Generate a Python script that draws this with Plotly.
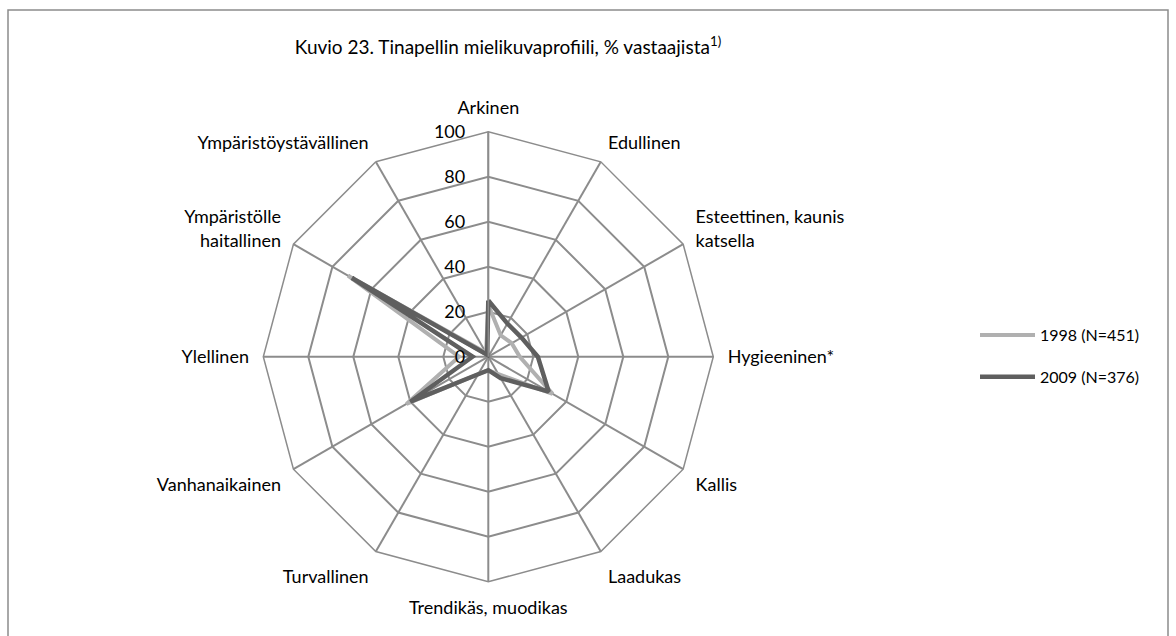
import plotly.graph_objects as go

categories = ["Arkinen", "Edullinen", "Esteettinen, kaunis<br>katsella", "Hygieeninen*",
              "Kallis", "Laadukas", "Trendikäs, muodikas", "Turvallinen",
              "Vanhanaikainen", "Ylellinen", "Ympäristölle<br>haitallinen",
              "Ympäristöystävällinen"]
values_1998 = [23, 11, 12, 14, 33, 9, 6, 9, 42, 13, 72, 2]
values_2009 = [25, 17, 17, 22, 31, 11, 6, 9, 40, 7, 70, 1]
series_names = ["1998 (N=451)", "2009 (N=376)"]
radial_ticks = [0, 20, 40, 60, 80, 100]

W, H = 1176, 636
cx, cy, R = 488.3, 356.7, 225.0

fig = go.Figure()
fig.add_trace(go.Scatterpolar(
    r=values_1998 + values_1998[:1], theta=categories + categories[:1],
    mode="lines", name=series_names[0],
    line=dict(color="#b0b0b0", width=4), legendgroup="a"))
fig.add_trace(go.Scatterpolar(
    r=values_2009 + values_2009[:1], theta=categories + categories[:1],
    mode="lines", name=series_names[1],
    line=dict(color="#5f5f5f", width=4.5), legendgroup="b"))

grid = "#8c8c8c"
fig.update_layout(
    width=W, height=H,
    margin=dict(l=0, r=0, t=0, b=0),
    paper_bgcolor="white",
    font=dict(family="Lato, Open Sans, sans-serif", color="black"),
    title=dict(text="Kuvio 23. Tinapellin mielikuvaprofiili, % vastaajista<sup>1)</sup>",
               x=508 / W, xanchor="center", y=1 - 47 / H, yanchor="middle",
               font=dict(size=19, color="black")),
    polar=dict(
        domain=dict(x=[(cx - R) / W, (cx + R) / W], y=[1 - (cy + R) / H, 1 - (cy - R) / H]),
        bgcolor="white",
        gridshape="linear",
        angularaxis=dict(rotation=90, direction="clockwise", showline=True,
                         linecolor=grid, linewidth=1.5, gridcolor=grid, gridwidth=1.5,
                         ticks="outside", ticklen=10, tickcolor="rgba(0,0,0,0)",
                         tickfont=dict(size=18, color="black")),
        radialaxis=dict(range=[0, 100], tickvals=radial_ticks, angle=90, tickangle=90,
                        showline=True, linecolor=grid, linewidth=1.5,
                        gridcolor=grid, gridwidth=1.5,
                        ticks="outside", ticklen=16, tickcolor="rgba(0,0,0,0)",
                        side="counterclockwise",
                        tickfont=dict(size=18, color="black")),
    ),
    legend=dict(x=975 / W, y=1 - 318 / H, xanchor="left", yanchor="top",
                font=dict(size=16, color="black"), tracegroupgap=18,
                itemwidth=55, bgcolor="rgba(0,0,0,0)"),
    shapes=[dict(type="rect", xref="paper", yref="paper",
                 x0=8 / W, x1=1168 / W, y0=1 - 640 / H, y1=1 - 10 / H,
                 line=dict(color="#8c8c8c", width=1.5), fillcolor="rgba(0,0,0,0)",
                 layer="below")],
)

fig.write_html("out.html", config={"displayModeBar": False},
               post_script="document.body.style.margin='0';")
